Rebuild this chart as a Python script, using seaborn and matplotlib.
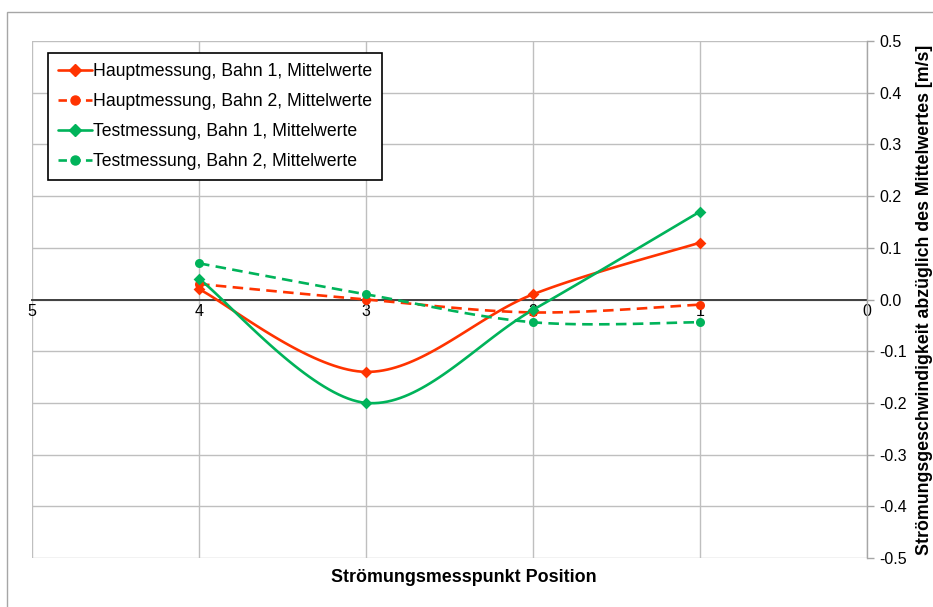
import numpy as np
import pandas as pd
import matplotlib
matplotlib.use("Agg")
import matplotlib.pyplot as plt
from matplotlib.patches import Rectangle
import seaborn as sns

# Measurement positions and mean-corrected flow velocities [m/s]
positions = [4, 3, 2, 1]
haupt_bahn1 = [0.02, -0.14, 0.01, 0.11]
haupt_bahn2 = [0.03, 0.00, -0.025, -0.01]
test_bahn1 = [0.04, -0.20, -0.02, 0.17]
test_bahn2 = [0.07, 0.01, -0.044, -0.044]

series_names = [
    "Hauptmessung, Bahn 1, Mittelwerte",
    "Hauptmessung, Bahn 2, Mittelwerte",
    "Testmessung, Bahn 1, Mittelwerte",
    "Testmessung, Bahn 2, Mittelwerte",
]
x_ticks = [0, 1, 2, 3, 4, 5]
y_ticks = [-0.5, -0.4, -0.3, -0.2, -0.1, 0.0, 0.1, 0.2, 0.3, 0.4, 0.5]

RED = "#FF3300"
GREEN = "#00B35A"


def smooth(xs, ys, n=40):
    """Catmull-Rom curve through the points (spreadsheet-style smoothed line)."""
    P = np.column_stack([xs, ys]).astype(float)
    pts = np.vstack([P[0], P, P[-1]])
    out = []
    t = np.linspace(0, 1, n)
    for i in range(1, len(pts) - 2):
        p0, p1, p2, p3 = pts[i - 1], pts[i], pts[i + 1], pts[i + 2]
        c1 = p1 + (p2 - p0) / 6.0
        c2 = p2 - (p3 - p1) / 6.0
        seg = ((1 - t) ** 3)[:, None] * p1 + (3 * (1 - t) ** 2 * t)[:, None] * c1 \
            + (3 * (1 - t) * t ** 2)[:, None] * c2 + (t ** 3)[:, None] * p2
        out.append(seg if i == 1 else seg[1:])
    s = np.vstack(out)
    return s[:, 0], s[:, 1]


sns.set_theme(style="white")
plt.rcParams["font.family"] = ["Liberation Sans", "DejaVu Sans"]
plt.rcParams["text.color"] = "black"
plt.rcParams["axes.labelcolor"] = "black"

fig = plt.figure(figsize=(9.33, 6.07), dpi=100)
ax = fig.add_axes([32 / 933, 1 - 558 / 607, (867 - 32) / 933, (558 - 41) / 607])

# outer chart frame
fig.patches.append(Rectangle((7 / 933, -0.1), 1.2, 1 - 12 / 607 + 0.1,
                             transform=fig.transFigure, fill=False,
                             edgecolor="#A6A6A6", linewidth=1.0, zorder=0))

styles = [
    (haupt_bahn1, RED, "-", "D", 6.0),
    (haupt_bahn2, RED, (0, (4, 2.4)), "o", 6.5),
    (test_bahn1, GREEN, "-", "D", 6.0),
    (test_bahn2, GREEN, (0, (4, 2.4)), "o", 6.5),
]

handles = []
for (vals, color, ls, marker, ms), name in zip(styles, series_names):
    sx, sy = smooth(positions, vals)
    curve = pd.DataFrame({"x": sx, "y": sy})
    sns.lineplot(data=curve, x="x", y="y", sort=False, ax=ax, color=color,
                 linewidth=1.9, linestyle=ls, zorder=3, legend=False)
    pts = pd.DataFrame({"x": positions, "y": vals})
    sns.scatterplot(data=pts, x="x", y="y", ax=ax, color=color, marker=marker,
                    s=ms ** 2, edgecolor=color, linewidth=0, zorder=4, legend=False)
    handle_ls = (0, (3.2, 2.0)) if ls != "-" else ls
    handles.append(plt.Line2D([], [], color=color, linestyle=handle_ls, linewidth=1.9,
                              marker=marker, markersize=ms, label=name))

ax.set_xlim(5, 0)
ax.set_ylim(-0.5, 0.5)
ax.set_xticks(x_ticks)
ax.set_xticklabels([str(v) for v in x_ticks])
ax.set_yticks(y_ticks)
ax.set_yticklabels([f"{v:.1f}" for v in y_ticks])

ax.grid(True, color="#BFBFBF", linewidth=1.0)
ax.set_axisbelow(True)

ax.spines["top"].set_visible(False)
ax.spines["left"].set_visible(False)
ax.spines["right"].set_color("#A6A6A6")
ax.spines["right"].set_linewidth(1.0)
ax.spines["bottom"].set_position(("data", 0))
ax.spines["bottom"].set_color("#404040")
ax.spines["bottom"].set_linewidth(1.4)
ax.spines["bottom"].set_zorder(2)

ax.yaxis.tick_right()
ax.yaxis.set_label_position("right")
ax.tick_params(axis="y", which="both", right=True, left=False, length=5,
               color="#A6A6A6", width=1.0, labelsize=11.5, pad=4, labelcolor="black")
ax.tick_params(axis="x", bottom=False, length=0, labelsize=11.5, pad=3,
               labelcolor="black")

ax.set_xlabel("")
ax.set_ylabel("Strömungsgeschwindigkeit abzüglich des Mittelwertes [m/s]",
              fontsize=12.8, fontweight="bold", labelpad=6)
fig.text(464 / 933, 1 - 578 / 607, "Strömungsmesspunkt Position",
         ha="center", va="center", fontsize=12.9, fontweight="bold")

leg = ax.legend(handles=handles, loc="upper left",
                bbox_to_anchor=(48 / 933, 1 - 53 / 607),
                bbox_transform=fig.transFigure, fontsize=12.7, frameon=True,
                fancybox=False, framealpha=1, edgecolor="black",
                handlelength=1.95, handletextpad=0.05, labelspacing=0.74,
                borderpad=0.55, borderaxespad=0)
leg.get_frame().set_linewidth(1.2)
leg.set_zorder(5)

fig.savefig("out.png", dpi=100)
